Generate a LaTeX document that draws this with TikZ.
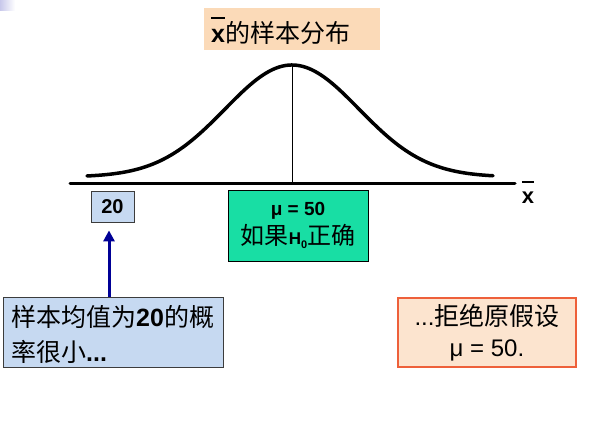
\documentclass[tikz,border=0pt]{standalone}
\usepackage{fontspec}
\setmainfont{Liberation Sans}
\newfontfamily\cjk{Noto Sans CJK SC}
\usetikzlibrary{arrows.meta}
\definecolor{titlepeach}{RGB}{251,218,184}
\definecolor{hgreen}{RGB}{24,222,164}
\definecolor{lblue}{RGB}{198,217,241}
\definecolor{boxgray}{RGB}{60,60,60}
\definecolor{ofill}{RGB}{252,228,207}
\definecolor{oborder}{RGB}{238,96,58}
\definecolor{arrowblue}{RGB}{0,0,150}
\definecolor{lav}{RGB}{200,200,235}
\newcommand{\myxbar}{\leavevmode\rlap{\rule[0.92em]{0.56em}{0.08em}}x}
\begin{document}
\begin{tikzpicture}[x=1pt,y=-1pt,
  plainbox/.style={rectangle, inner sep=0pt},
  curveline/.style={line width=3.5pt, line cap=round},
  axisline/.style={line width=3pt, line cap=round}]
\useasboundingbox (0,0) rectangle (589,428);
% corner decoration
\shade[left color=lav, right color=white] (0,0) rectangle (15,11);
% title
\node[plainbox, fill=titlepeach, minimum width=176pt, minimum height=42pt] (title) at (292,29) {};
\node[plainbox, anchor=west] (titletxt) at (211,31)
  {\fontsize{25}{28}\selectfont{\bfseries\myxbar}{\cjk 的样本分布}};
% curve
\draw[curveline] plot[domain=87:493, samples=140, smooth] (\x,{177-112*exp(-((\x-292)/67)^2/2)});
\coordinate (peak) at (292,65);
\coordinate (axL) at (70,183);
\coordinate (axR) at (515,183);
\draw[line width=0.9pt] (peak) -- (peak |- axL);
\draw[axisline] (axL) -- (axR);
\node[plainbox] (xlab) at (528,192) {\fontsize{22}{26}\selectfont\bfseries\myxbar};
% box 20
\node[plainbox, draw=boxgray, line width=0.8pt, fill=lblue, minimum width=43pt, minimum height=31pt] (twenty) at (112.5,206.5)
  {\fontsize{20}{24}\selectfont\bfseries 20};
% green box
\node[plainbox, draw=black, line width=0.8pt, fill=hgreen, minimum width=140pt, minimum height=71pt, align=center,
  font=\fontsize{24}{29}\selectfont] (hbox) at (298,225.5)
  {{\fontsize{19}{22}\selectfont\bfseries μ = 50}\\{\cjk 如果}{\fontsize{17}{20}\selectfont\bfseries H\raisebox{-4pt}{\fontsize{11}{12}\selectfont 0}}{\cjk 正确}};
% low blue box
\node[plainbox, draw=boxgray, line width=0.8pt, fill=lblue, minimum width=220pt, minimum height=70pt] (lowbox) at (113,332) {};
\node[plainbox, anchor=base west, align=left, font=\fontsize{25}{35}\selectfont\cjk] (lowtxt) at (11,361)
  {样本均值为{\rmfamily\bfseries 20}的概\\率很小{\rmfamily\bfseries ...}};
% orange box
\node[plainbox, draw=oborder, line width=1.2pt, fill=ofill, minimum width=178pt, minimum height=69pt, align=center,
  font=\fontsize{24}{31}\selectfont] (obox) at (487,332.5)
  {...{\cjk\fontsize{25}{31}\selectfont 拒绝原假设}\\μ = 50.};
% arrow
\coordinate (ax) at (109,0);
\draw[arrowblue, line width=3pt, -{Triangle[length=11pt,width=11pt]}, shorten >=8pt] (lowbox.north -| ax) -- (twenty.south -| ax);
\end{tikzpicture}
\end{document}
